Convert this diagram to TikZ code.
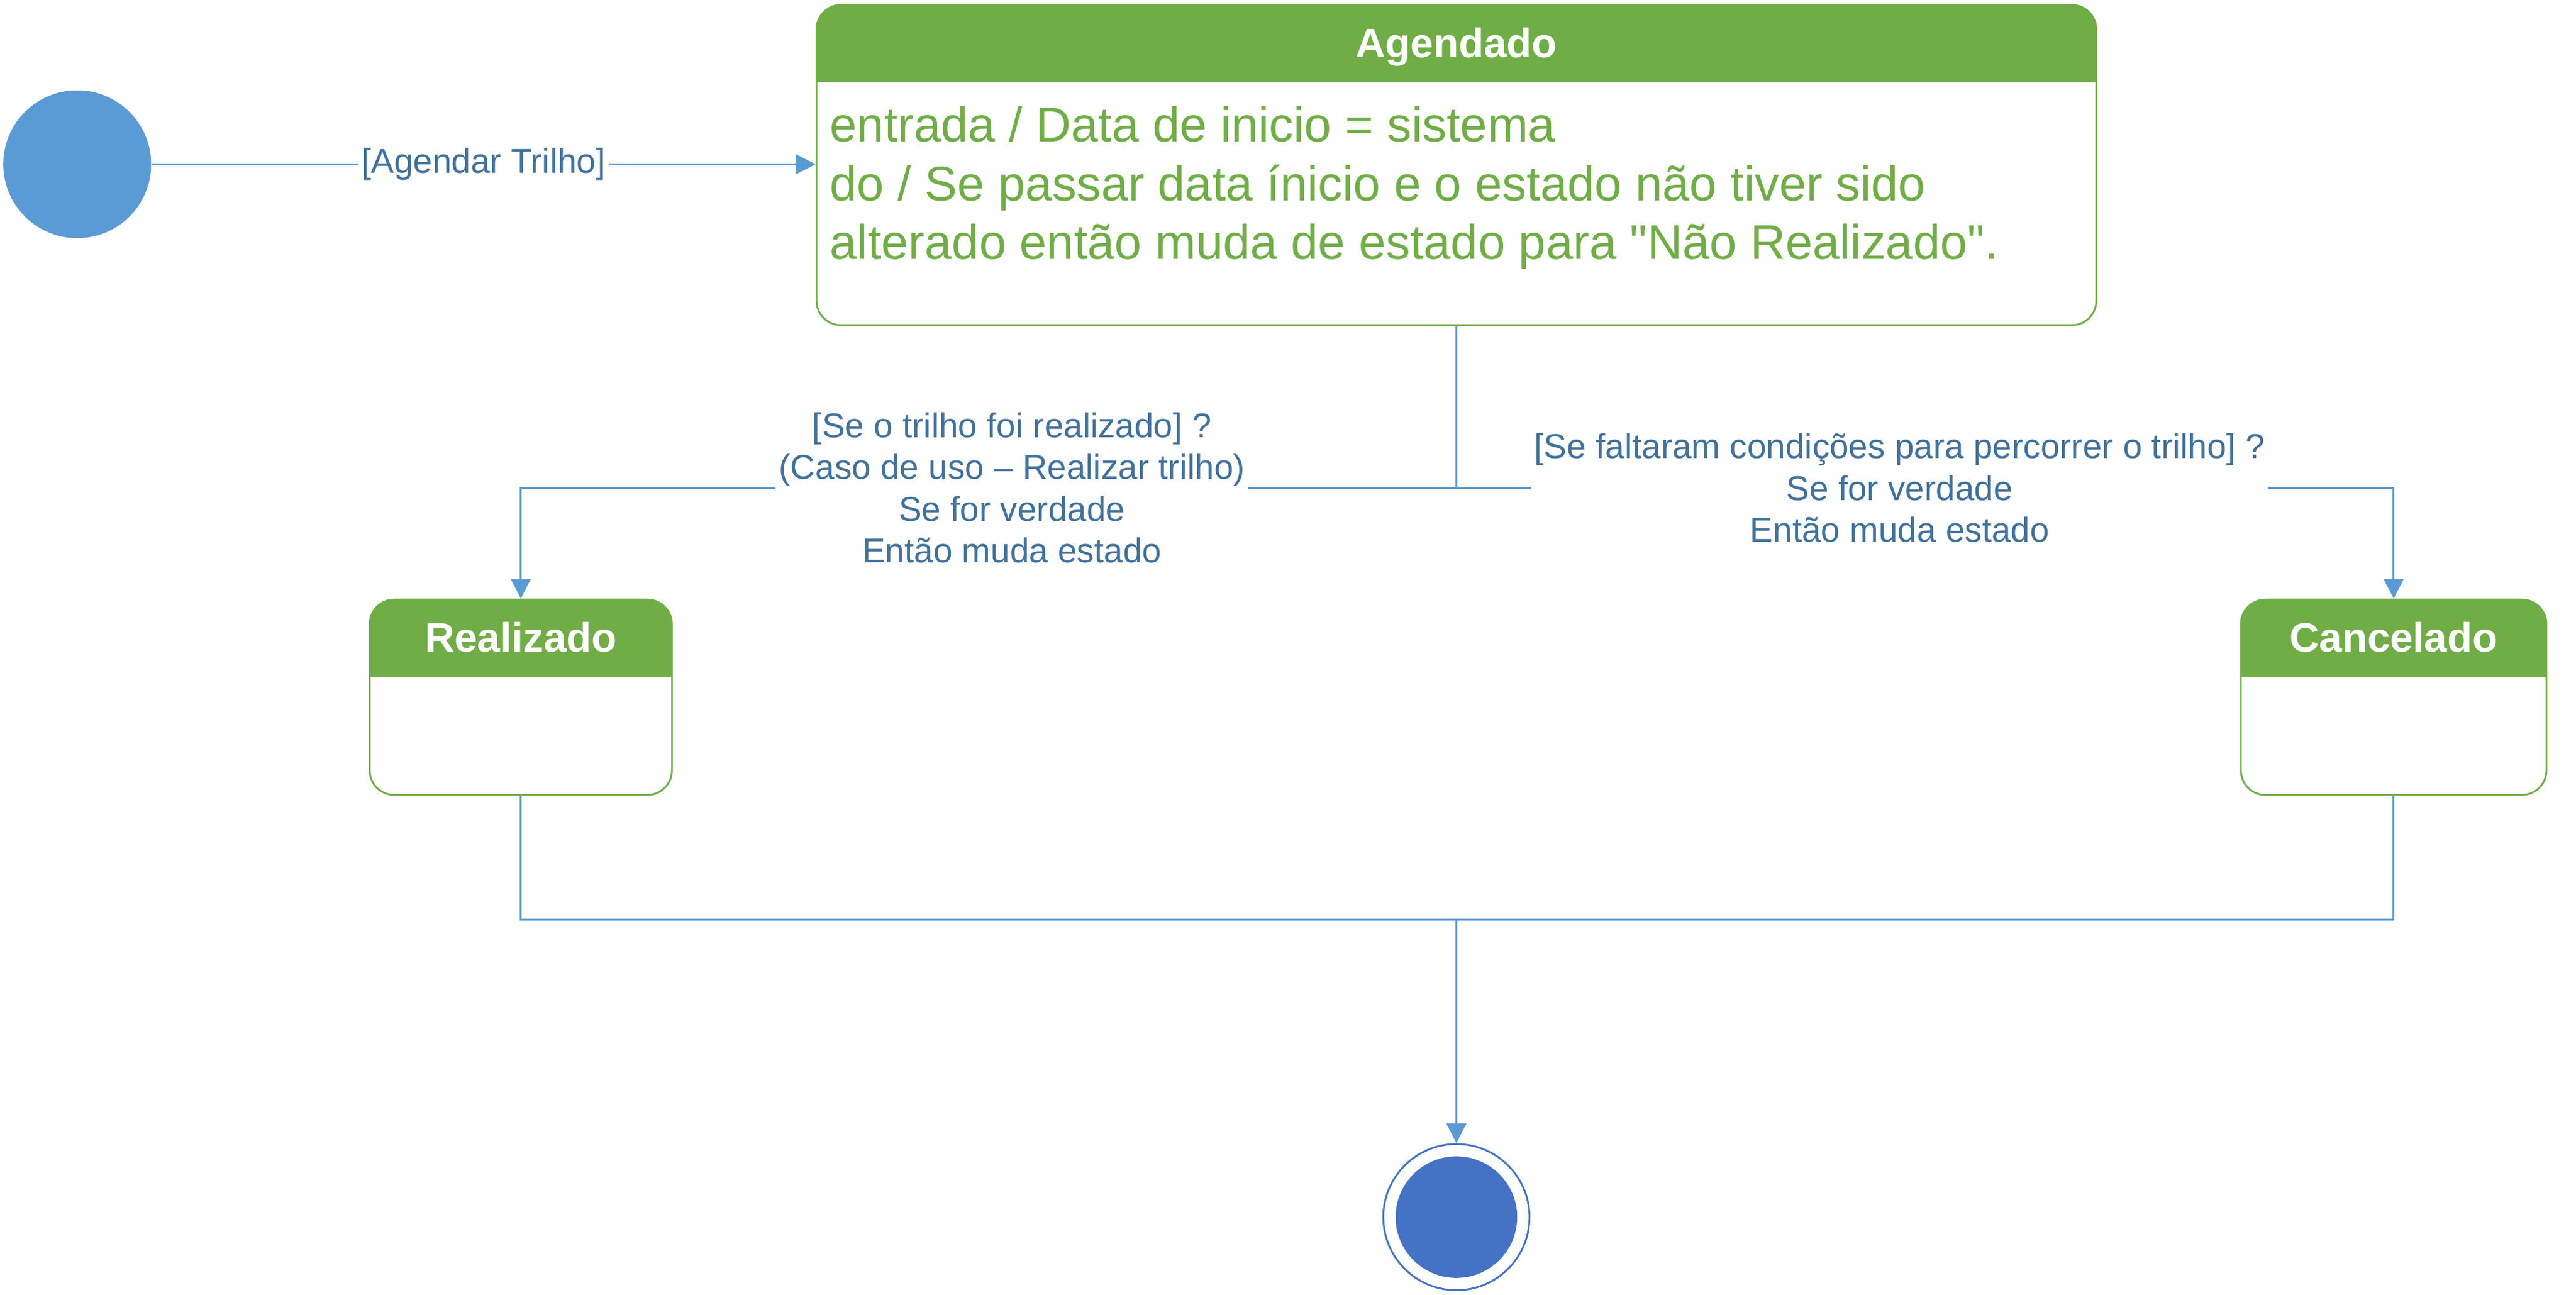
\documentclass[tikz,border=0pt]{standalone}
\usepackage{fontspec}
\setmainfont{Liberation Sans}
\newfontfamily\agfont{Liberation Sans}
\usetikzlibrary{arrows.meta}
\definecolor{umlgreen}{HTML}{70AD47}
\definecolor{lineblue}{HTML}{5B9BD5}
\definecolor{labelblue}{HTML}{41719C}
\definecolor{finalblue}{HTML}{4472C4}
\begin{document}
\begin{tikzpicture}[x=1pt,y=-1pt,
  conn/.style={draw=lineblue, line width=1.1pt},
  arr/.style={conn, -{Triangle[length=12pt,width=12pt]}},
  lbl/.style={fill=white, text=labelblue, font=\fontsize{21}{25.4}\selectfont, align=center, inner sep=2pt},
  statebox/.style={rectangle, draw=umlgreen, line width=1.1pt, rounded corners=15pt, inner sep=0pt,
    path picture={\fill[umlgreen, sharp corners] (path picture bounding box.north west) rectangle ([yshift=-47pt]path picture bounding box.north east);}},
  hdr/.style={text=white, font=\bfseries\fontsize{25}{30}\selectfont},
]
\useasboundingbox (0,0) rectangle (1568,788.4);

% states
\node[statebox, minimum width=779pt, minimum height=195pt] (ag) at (886.5,100.5) {};
\node[hdr] (aghdr) at ([yshift=-26pt]ag.north) {Agendado};
\node[anchor=west, inner sep=0pt, text=umlgreen, align=left,
  font=\agfont\fontsize{29.7}{35.8}\selectfont] (agtxt) at (505,114.5)
  {entrada / Data de inicio = sistema\\
   do / Se passar data ínicio e o estado não tiver sido\\
   alterado então muda de estado para "Não Realizado".};

\node[statebox, minimum width=184pt, minimum height=119pt] (re) at (317,424.5) {};
\node[hdr] (rehdr) at ([yshift=-23.5pt]re.north) {Realizado};

\node[statebox, minimum width=186pt, minimum height=119pt] (ce) at (1457,424.5) {};
\node[hdr] (cehdr) at ([yshift=-23.5pt]ce.north) {Cancelado};

% initial and final
\node[circle, fill=lineblue, minimum size=90pt, inner sep=0pt] (init) at (47,100) {};
\node[circle, draw=finalblue, line width=1.1pt, minimum size=89pt, inner sep=0pt] (fin) at (886.5,741) {};
\node[circle, fill=finalblue, minimum size=74pt, inner sep=0pt] (finin) at (fin.center) {};

% connectors
\draw[arr] (init.east) -- node[lbl, pos=0.5]{[Agendar Trilho]} (init.east -| ag.west);

\coordinate (split) at (886.5,297);
\draw[conn] (ag.south) -- (split);
\draw[arr] (split) -- node[lbl, pos=0.475]{[Se o trilho foi realizado] ?\\(Caso de uso – Realizar trilho)\\Se for verdade\\Então muda estado} (split -| re.north) -- (re.north);
\draw[arr] (split) -- node[lbl, pos=0.473]{[Se faltaram condições para percorrer o trilho] ?\\Se for verdade\\Então muda estado} (split -| ce.north) -- (ce.north);

\coordinate (merge) at (886.5,560);
\draw[conn] (re.south) -- (re.south |- merge) -- (ce.south |- merge) -- (ce.south);
\draw[arr] (merge) -- (fin.north);
\end{tikzpicture}
\end{document}
